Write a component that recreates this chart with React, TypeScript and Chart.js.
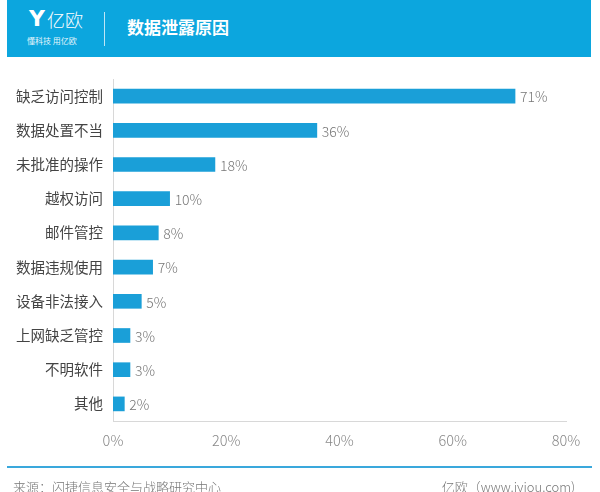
import React, { useEffect, useRef } from "react";
import { Chart, registerables } from "chart.js";

Chart.register(...registerables);

const categories = ["缺乏访问控制", "数据处置不当", "未批准的操作", "越权访问", "邮件管控", "数据违规使用", "设备非法接入", "上网缺乏管控", "不明软件", "其他"];
const values = [71, 36, 18, 10, 8, 7, 5, 3, 3, 2];
const xTicks = [0, 20, 40, 60, 80];

const FONT = '"Noto Sans CJK SC", "Noto Sans", sans-serif';

const valueLabels = {
  id: "valueLabels",
  afterDatasetsDraw(chart: any) {
    const ctx = chart.ctx;
    const meta = chart.getDatasetMeta(0);
    ctx.save();
    ctx.font = `300 14px ${FONT}`;
    ctx.fillStyle = "#777";
    ctx.textAlign = "left";
    ctx.textBaseline = "middle";
    meta.data.forEach((bar: any, i: number) => {
      ctx.fillText(values[i] + "%", bar.x + 5, bar.y + 1);
    });
    ctx.restore();
  },
};

export default function App() {
  const ref = useRef<HTMLCanvasElement>(null);
  useEffect(() => {
    document.body.style.margin = "0";
    const chart = new Chart(ref.current!, {
      type: "bar",
      data: {
        labels: categories,
        datasets: [
          {
            data: values,
            backgroundColor: "#1a9fd8",
            barThickness: 14,
          },
        ],
      },
      options: {
        indexAxis: "y",
        animation: false,
        responsive: false,
        maintainAspectRatio: false,
        layout: { padding: { top: 79, right: 34, left: 0, bottom: 0 } },
        plugins: { legend: { display: false }, tooltip: { enabled: false } },
        scales: {
          x: {
            min: 0,
            max: 80,
            afterBuildTicks(scale: any) {
              scale.ticks = xTicks.map((v) => ({ value: v }));
            },
            afterFit(scale: any) {
              scale.height = 71;
            },
            grid: { display: false, drawTicks: false },
            border: { display: true, color: "#d8d8d8", width: 1 },
            ticks: {
              padding: 11,
              color: "#888",
              font: { family: FONT, size: 14.5, weight: 300 as any },
              callback: (v: any) => v + "%",
            },
          },
          y: {
            afterFit(scale: any) {
              scale.width = 113;
            },
            grid: { display: false, drawTicks: false },
            border: { display: true, color: "#d8d8d8", width: 1 },
            ticks: {
              padding: 10,
              color: "#444",
              font: { family: FONT, size: 14.5, weight: 400 as any },
            },
          },
        },
      },
      plugins: [valueLabels],
    });
    return () => chart.destroy();
  }, []);

  return (
    <div style={{ position: "relative", width: 600, height: 492, overflow: "hidden", background: "#fff", fontFamily: FONT }}>
      <canvas ref={ref} width={600} height={492} style={{ position: "absolute", left: 0, top: 0 }} />
      <div style={{ position: "absolute", left: 7, top: 0, width: 584, height: 57, background: "#0ca6de" }}>
        <div style={{ position: "absolute", left: 22, top: 6, color: "#fff", fontSize: 22, fontWeight: 700, lineHeight: "26px", fontFamily: '"DejaVu Sans", sans-serif' }}>Y</div>
        <div style={{ position: "absolute", left: 40, top: 8, color: "#fff", fontSize: 18, fontWeight: 300, lineHeight: "22px" }}>亿欧</div>
        <div style={{ position: "absolute", left: 20, top: 36, color: "#e8f6fc", fontSize: 8, lineHeight: "10px", whiteSpace: "nowrap" }}>懂科技 用亿欧</div>
        <div style={{ position: "absolute", left: 97, top: 12, width: 1, height: 34, background: "#bfe6f6" }} />
        <div style={{ position: "absolute", left: 120, top: 15, color: "#fff", fontSize: 17, fontWeight: 700, lineHeight: "24px", whiteSpace: "nowrap" }}>数据泄露原因</div>
      </div>
      <div style={{ position: "absolute", left: 7, top: 466, width: 585, height: 2, background: "#3aa8dc" }} />
      <div style={{ position: "absolute", left: 13, top: 478, color: "#777", fontSize: 13, lineHeight: "18px", whiteSpace: "nowrap", fontWeight: 300 }}>来源：闪捷信息安全与战略研究中心</div>
      <div style={{ position: "absolute", right: 25, top: 478, color: "#777", fontSize: 13, lineHeight: "18px", whiteSpace: "nowrap", fontWeight: 300 }}>亿欧（www.iyiou.com)</div>
    </div>
  );
}
